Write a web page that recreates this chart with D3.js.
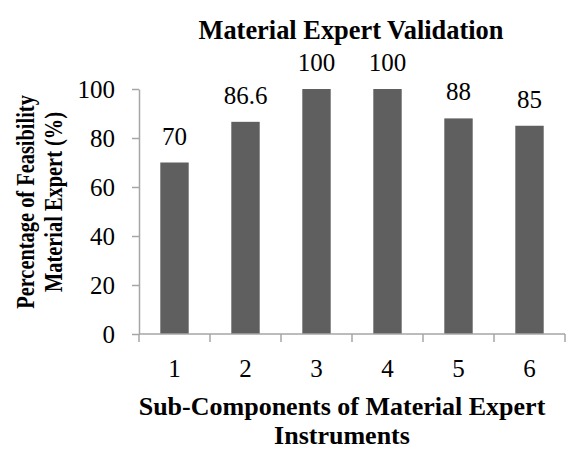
<!DOCTYPE html>
<html>
<head>
<meta charset="utf-8">
<script src="https://cdn.jsdelivr.net/npm/d3@7"></script>
<style>
  body { margin: 0; background: #fff; }
  text { font-family: "Liberation Serif", "Times New Roman", serif; fill: #000; }
</style>
</head>
<body>
<svg id="chart" width="566" height="450" font-family="Liberation Serif"></svg>
<script>
// chart data
var v_Categories = ["1", "2", "3", "4", "5", "6"];
var v_Values     = [70, 86.6, 100, 100, 88, 85];
var v_YTicks     = [0, 20, 40, 60, 80, 100];

var v_Title      = "Material Expert Validation";
var v_YLabel     = ["Percentage of Feasibility", "Material Expert (%)"];
var v_XLabel     = ["Sub-Components of Material Expert", "Instruments"];

var v_Margin = {top: 89, right: 1, bottom: 116, left: 139};
var v_Width  = 566;
var v_Height = 450;
var v_AxisColor = "#a6a6a6";
var v_BarColor  = "#5f5f5f";

var v_SVG = d3.select("#chart");

var x = d3.scaleBand()
    .domain(v_Categories)
    .range([v_Margin.left, v_Width - v_Margin.right])
    .padding(0);

var y = d3.scaleLinear()
    .domain([0, 100])
    .range([v_Height - v_Margin.bottom, v_Margin.top]);

var v_BarW = x.bandwidth() * 0.4;

// bars
v_SVG.append("g")
    .selectAll("rect")
    .data(v_Values)
    .join("rect")
    .attr("x", function (d, i) { return x(v_Categories[i]) + (x.bandwidth() - v_BarW) / 2; })
    .attr("y", function (d) { return y(d); })
    .attr("width", v_BarW)
    .attr("height", function (d) { return y(0) - y(d); })
    .attr("fill", v_BarColor);

// value labels
v_SVG.append("g")
    .selectAll("text")
    .data(v_Values)
    .join("text")
    .attr("x", function (d, i) { return x(v_Categories[i]) + x.bandwidth() / 2; })
    .attr("y", function (d) { return y(d) - 18; })
    .attr("text-anchor", "middle")
    .attr("font-size", 25)
    .text(function (d) { return d; });

// y axis
var v_YAxis = v_SVG.append("g")
    .attr("transform", "translate(" + v_Margin.left + ",0)")
    .call(d3.axisLeft(y).tickValues(v_YTicks).tickSize(7).tickSizeOuter(0).tickPadding(17));
v_YAxis.attr("font-family", "Liberation Serif");
v_YAxis.selectAll("path, line").attr("stroke", v_AxisColor).attr("stroke-width", 1.5);
v_YAxis.selectAll("text")
    .attr("font-size", 25)
    .attr("fill", "#000");

// x axis: ticks on band edges
var v_XAxisG = v_SVG.append("g")
    .attr("transform", "translate(0," + y(0) + ")");
v_XAxisG.append("line")
    .attr("x1", v_Margin.left).attr("x2", v_Width - v_Margin.right)
    .attr("stroke", v_AxisColor).attr("stroke-width", 1.5);
var v_Edges = v_Categories.map(function (c) { return x(c); }).concat([x.range()[1]]);
v_XAxisG.selectAll("line.tick")
    .data(v_Edges)
    .join("line")
    .attr("class", "tick")
    .attr("x1", function (d) { return d; })
    .attr("x2", function (d) { return d; })
    .attr("y1", 0).attr("y2", 8)
    .attr("stroke", v_AxisColor).attr("stroke-width", 1.5);
v_XAxisG.selectAll("text")
    .data(v_Categories)
    .join("text")
    .attr("x", function (d) { return x(d) + x.bandwidth() / 2; })
    .attr("y", 43)
    .attr("text-anchor", "middle")
    .attr("font-size", 25)
    .text(function (d) { return d; });

// title
v_SVG.append("text")
    .attr("x", 351)
    .attr("y", 39)
    .attr("text-anchor", "middle")
    .attr("font-size", 26.4)
    .attr("font-weight", "bold")
    .text(v_Title);

// x label
v_SVG.append("g")
    .selectAll("text")
    .data(v_XLabel)
    .join("text")
    .attr("x", 342)
    .attr("y", function (d, i) { return 415 + i * 29; })
    .attr("text-anchor", "middle")
    .attr("font-size", 26)
    .attr("font-weight", "bold")
    .text(function (d) { return d; });

// y label (rotated, slightly condensed)
v_SVG.append("g")
    .selectAll("text")
    .data(v_YLabel)
    .join("text")
    .attr("transform", function (d, i) { return "translate(" + (34 + i * 28) + ",202) rotate(-90) scale(0.8,1)"; })
    .attr("text-anchor", "middle")
    .attr("font-size", 25.5)
    .attr("font-weight", "bold")
    .text(function (d) { return d; });
</script>
</body>
</html>
